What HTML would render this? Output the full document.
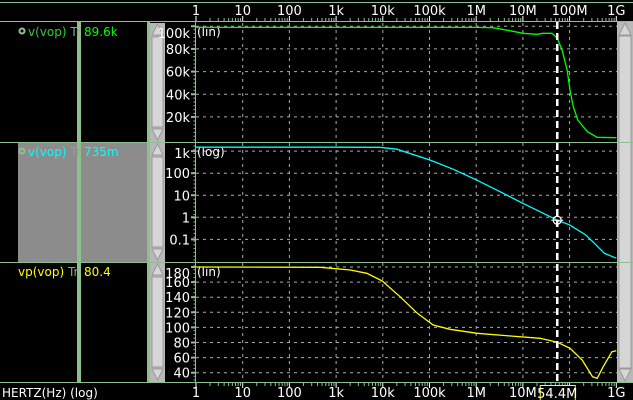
<!DOCTYPE html>
<html><head><meta charset="utf-8"><style>
html,body{margin:0;padding:0;background:#000;}
svg{display:block;font-family:"DejaVu Sans","Liberation Sans",sans-serif;}
</style></head><body>
<svg id="c" width="633" height="400" viewBox="0 0 633 400" xmlns="http://www.w3.org/2000/svg">
<rect x="0" y="0" width="633" height="400" fill="#000"/>
<g id="left">
  <rect x="18" y="143" width="59" height="119" fill="#8c8c8c"/>
  <rect x="81" y="143" width="66" height="119" fill="#8c8c8c"/>
  <rect x="77" y="22" width="4" height="360" fill="#8fbf8f"/>
  <rect x="147" y="22" width="3" height="360" fill="#8fbf8f"/>
  <g>
    <circle cx="22" cy="31" r="2.5" fill="none" stroke="#8fbf8f" stroke-width="2"/>
    <text x="28" y="36" font-size="12" fill="#3c3">v(vop) <tspan fill="#8a8">Tr</tspan></text>
    <text x="84" y="36" font-size="12" fill="#0f0">89.6k</text>
  </g>
  <g>
    <circle cx="22" cy="151" r="2.5" fill="none" stroke="#8fbf8f" stroke-width="2"/>
    <text x="28" y="156" font-size="12" fill="#0ff">v(vop) <tspan fill="#8a8">Tr</tspan></text>
    <text x="84" y="156" font-size="12" fill="#0ff">735m</text>
  </g>
  <g>
    <text x="18" y="276" font-size="12" fill="#ff0">vp(vop) <tspan fill="#8a8">Tr</tspan></text>
    <text x="84" y="276" font-size="12" fill="#ff0">80.4</text>
  </g>
</g>
<g id="scrolls"></g>
<g id="grid"></g>
<g id="axes"></g>
<g id="series"></g>
<g id="frame"></g>
<g id="cursor"></g>
<text x="2" y="397" font-size="12" fill="#fff">HERTZ(Hz) (log)</text>
</svg>
<script>
const decadeLabels = ["1","10","100","1k","10k","100k","1M","10M","100M","1G"];
const magTicks = [20000,40000,60000,80000,100000];
const magTickLabels = ["20k","40k","60k","80k","100k"];
const logTicks = [0.1,1,10,100,1000];
const logTickLabels = ["0.1","1","10","100","1k"];
const phTicks = [40,60,80,100,120,140,160,180];
const phTickLabels = ["40","60","80","100","120","140","160","180"];

const magFreq = [1,1e3,1e6,2.3e6,5.4e6,1e7,2e7,2.7e7,4.2e7,5.4e7,6.9e7,8.9e7,1.02e8,1.2e8,1.5e8,2.4e8,3.9e8,1e9];
const magVal = [99000,99000,99000,98700,96000,93800,92900,93800,93800,89600,79000,61000,43700,29000,17300,7000,2000,1700];

const logFreq = [1,1e3,8.7e3,2e4,1e5,3.2e5,1e6,3.2e6,1e7,5.44e7,1e8,2.24e8,3.4e8,5.6e8,1e9];
const logVal = [1513,1513,1500,1230,400,152,50,14.6,4.3,0.735,0.45,0.156,0.066,0.023,0.014];

const phFreq = [1,457,2000,4570,9770,23400,55000,120000,275000,1.05e6,5.4e6,2.34e7,5.44e7,1.02e8,1.86e8,3.1e8,3.9e8,5.25e8,8.1e8,1e9];
const phVal = [180,179.6,176,171.7,161.5,140.7,118.7,103.2,97.5,92.2,88.6,85.6,80.4,72.3,56.8,34.7,32.6,48,67.8,69];

const cursorFreq = 5.44e7;
const cursorLabel = "54.4M";

const NS="http://www.w3.org/2000/svg";
const X0=196, DEC=46.7, XR=617;
function xs(f){return X0+Math.log10(f)*DEC;}
const p1={top:22,bot:142}, p2={top:142,bot:262}, p3={top:262,bot:382};
function yMag(v){return 139.6 - v/20000*22.67;}
function yLog(v){return 217.3 - Math.log10(v)*22.05;}
function yPh(v){return 267 + (180-v)/20*15.1;}
function mk(tag,attrs,parent){const e=document.createElementNS(NS,tag);for(const k in attrs)e.setAttribute(k,attrs[k]);parent.appendChild(e);return e;}
const grid=document.getElementById('grid'), axes=document.getElementById('axes'), series=document.getElementById('series'), frame=document.getElementById('frame'), scrolls=document.getElementById('scrolls'), cur=document.getElementById('cursor');

// horizontal separators
[2,21,142,262,382].forEach(y=>{const l=mk('line',{x1:0,x2:633,y1:y+0.5,y2:y+0.5,stroke:'#8fbf8f','stroke-width':1},frame);

});
mk('line',{x1:X0-0.5,x2:X0-0.5,y1:21,y2:383,stroke:'#8fbf8f'},frame);

// x ticks & labels (top and bottom)
decadeLabels.forEach((lab,i)=>{
  const x=xs(Math.pow(10,i));
  if(i>0&&i<9){[p1,p2,p3].forEach(p=>{mk('line',{x1:x,x2:x,y1:p.top+1,y2:p.bot,stroke:'#aaa','stroke-dasharray':'3,4'},grid);});}
  [[21,-5],[383,5]].forEach(([y,d])=>{mk('line',{x1:x,x2:x,y1:y,y2:y+d,stroke:'#fff'},axes);});
  if(i<9){for(let m=2;m<10;m++){const xm=xs(m*Math.pow(10,i));
    [[21,-3],[383,3]].forEach(([y,d])=>{mk('line',{x1:xm,x2:xm,y1:y,y2:y+d,stroke:'#8fbf8f'},axes);});}}
  const t1=mk('text',{x:x,y:15,'font-size':13,fill:'#fff','text-anchor':'middle'},axes);t1.textContent=lab;
  
  
  if(lab!=="100M"){const t2=mk('text',{x:x,y:397,'font-size':13,fill:'#fff','text-anchor':'middle'},axes);t2.textContent=lab;
  
  }
});

function yAxis(ticks,labels,fy,ty,unit,p){
  ticks.forEach((v,i)=>{const y=fy(v);
    mk('line',{x1:X0,x2:XR,y1:y,y2:y,stroke:'#aaa','stroke-dasharray':'3,4'},grid);
    mk('line',{x1:X0-5,x2:X0,y1:y,y2:y,stroke:'#8fbf8f','stroke-width':2},axes);
    const t=mk('text',{x:X0-6,y:Math.min(y+5,p.bot-3),'font-size':13,fill:'#fff','text-anchor':'end'},axes);
    if(i===ticks.length-1&&y<p.top+10) t.setAttribute('y',p.top+16);
    t.textContent=labels[i];
    
    
  });
  const u=mk('text',{x:X0+1,y:ty,'font-size':12,fill:'#fff'},axes);u.textContent=unit;
  
  
  for(let y=p.top+4;y<p.bot;y+=3.8){mk('line',{x1:X0-2.5,x2:X0,y1:y,y2:y,stroke:'#8fbf8f'},axes);}
}
yAxis(magTicks,magTickLabels,yMag,36,"(lin)",p1);
yAxis(logTicks,logTickLabels,yLog,156,"(log)",p2);
yAxis(phTicks,phTickLabels,yPh,276,"(lin)",p3);

function line(fr,vals,fy,col,name){
  const pts=fr.map((f,i)=>xs(f).toFixed(1)+','+fy(vals[i]).toFixed(1)).join(' ');
  const pl=mk('polyline',{points:pts,fill:'none',stroke:col,'stroke-width':1.3},series);
  
  
}
line(magFreq,magVal,yMag,'#0f0','magnitude-lin-line');
line(logFreq,logVal,yLog,'#0ff','magnitude-log-line');
line(phFreq,phVal,yPh,'#ff0','phase-line');

// scrollbars
function sbar(x,p){
  const g=mk('g',{},scrolls);
  
  
  mk('rect',{x:x,y:p.top+1,width:15,height:p.bot-p.top-1,fill:'#b8b8b8'},g);
  mk('rect',{x:x+2,y:p.top+15,width:11,height:p.bot-p.top-30,fill:'#d6d6d6',stroke:'#999'},g);
  mk('polygon',{points:`${x+2},${p.top+13} ${x+13},${p.top+13} ${x+7.5},${p.top+2}`,fill:'#d6d6d6',stroke:'#999'},g);
  mk('polygon',{points:`${x+2},${p.bot-13} ${x+13},${p.bot-13} ${x+7.5},${p.bot-2}`,fill:'#d6d6d6',stroke:'#999'},g);
}
[p1,p2,p3].forEach(p=>sbar(150,p));
{const g=mk('g',{},scrolls);


mk('rect',{x:617,y:22,width:16,height:360,fill:'#b8b8b8'},g);
mk('rect',{x:619,y:36,width:12,height:332,fill:'#d6d6d6',stroke:'#999'},g);
mk('polygon',{points:'619,35 631,35 625,23',fill:'#d6d6d6',stroke:'#999'},g);
mk('polygon',{points:'619,369 631,369 625,381',fill:'#d6d6d6',stroke:'#999'},g);}

// cursor
const cx=xs(cursorFreq);
const cl=mk('line',{x1:cx,x2:cx,y1:22,y2:382,stroke:'#fff','stroke-width':2.5,'stroke-dasharray':'7,4'},cur);


const cy=yLog(0.735);
const ch=mk('g',{},cur);


mk('circle',{cx:cx,cy:cy,r:4,fill:'none',stroke:'#fff','stroke-width':1.2},ch);
mk('line',{x1:cx-6,x2:cx+6,y1:cy,y2:cy,stroke:'#fff'},ch);
const cb=mk('g',{},cur);


mk('rect',{x:cx-17,y:385.5,width:35,height:15,fill:'#000',stroke:'#ff0'},cb);
const ct=mk('text',{x:cx,y:398,'font-size':13,fill:'#fff','text-anchor':'middle'},cb);ct.textContent=cursorLabel;
</script>
</body></html>
